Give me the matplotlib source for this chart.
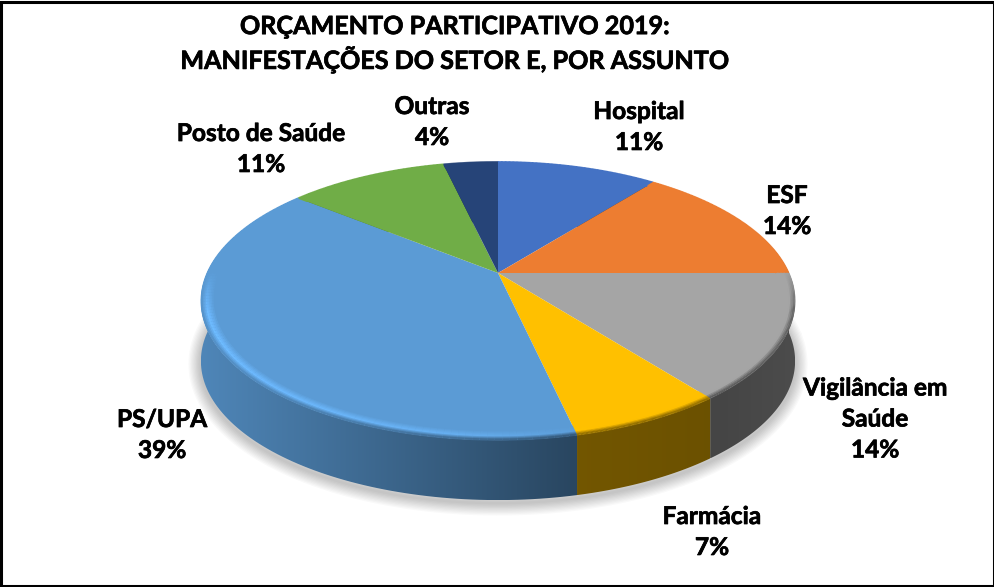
import numpy as np
import matplotlib
matplotlib.use('Agg')
import matplotlib.pyplot as plt
import matplotlib.patheffects as pe
from matplotlib.collections import LineCollection
from matplotlib.colors import to_rgb
from matplotlib.patches import Polygon, Rectangle
from matplotlib.transforms import Transform

plt.rcParams['font.family'] = ['Lato', 'DejaVu Sans']

categories = ['Hospital', 'ESF', 'Vigilância em\nSaúde', 'Farmácia', 'PS/UPA', 'Posto de Saúde', 'Outras']
shares = [10.6, 14.4, 14.5, 7.0, 39.4, 10.5, 3.6]
percent_labels = ['11%', '14%', '14%', '7%', '39%', '11%', '4%']
colors = ['#4472C4', '#ED7D31', '#A5A5A5', '#FFC000', '#5B9BD5', '#70AD47', '#264478']
title = 'ORÇAMENTO PARTICIPATIVO 2019:\nMANIFESTAÇÕES DO SETOR E, POR ASSUNTO'

label_pos = [(639, 127), (787, 211), (875, 419), (712, 532), (162, 435), (261, 149), (432, 122)]

CX, CY = 498, 273   # centro da pizza em pixels
A, B = 291.0, 133.4
K = 0.2016          # perspectiva
DEPTH = 60


class Tilt(Transform):
    """Circulo unitario -> disco inclinado, em pixels"""
    input_dims = 2
    output_dims = 2

    def transform_non_affine(self, values):
        values = np.asarray(values)
        w = 1 + K * values[:, 1]
        return np.column_stack([CX + A * values[:, 0] / w, CY - B * values[:, 1] / w])


tilt = Tilt()


def arc(theta1, theta2, r=1.0, n=120):
    t = np.radians(np.linspace(theta1, theta2, n))
    return np.column_stack([r * np.cos(t), r * np.sin(t)])


def wall_shade(x):
    return np.interp(x, [205, 330, 577, 720, 795], [0.86, 0.72, 0.45, 0.42, 0.46])


fig = plt.figure(figsize=(9.95, 5.87), dpi=100)
ax = fig.add_axes([0, 0, 1, 1])

wedges, _ = ax.pie(shares, startangle=90, counterclock=False, wedgeprops={'linewidth': 0})

# sombra embaixo do disco
outline = tilt.transform_non_affine(arc(0, 360, n=360)) + [0, DEPTH + 3]
for i in range(10):
    ax.add_patch(Polygon(outline, closed=True, facecolor='none', edgecolor='black',
                         linewidth=(10 - i) * 1.8, alpha=0.025, zorder=1))

# parede lateral
for wedge, color in zip(wedges, colors):
    top = tilt.transform_non_affine(arc(wedge.theta1, wedge.theta2))
    poly = np.vstack([top, top[::-1] + [0, DEPTH]])
    xs = np.linspace(poly[:, 0].min(), poly[:, 0].max(), 300)
    img = wall_shade(xs)[None, :, None] * np.array(to_rgb(color))[None, None, :]
    im = ax.imshow(img, extent=(xs[0], xs[-1], poly[:, 1].max(), poly[:, 1].min()),
                   aspect='auto', zorder=2, interpolation='bilinear')
    im.set_clip_path(Polygon(poly, closed=True, transform=ax.transData))

# tampo
for wedge, color in zip(wedges, colors):
    wedge.set_facecolor(color)
    wedge.set_transform(tilt + ax.transData)
    wedge.set_zorder(3)

# chanfro na borda da frente
rows = np.linspace(0.955, 1.0, 10)
for wedge, color in zip(wedges, colors):
    base = np.array(to_rgb(color))
    for r, next_r in zip(rows[:-1], rows[1:]):
        unit = arc(wedge.theta1, wedge.theta2, r=(r + next_r) / 2)
        pts = tilt.transform_non_affine(unit)
        segs = np.stack([pts[:-1], pts[1:]], axis=1)
        x = (pts[:-1, 0] + pts[1:, 0]) / 2
        front = np.clip((0.02 - unit[:-1, 1]) / 0.3, 0, 1)
        highlight = np.interp(x, [205, 450, 600], [1.22, 1.14, 1.0])
        u = (r - rows[0]) / (rows[-1] - rows[0])
        factor = np.where(u < 0.55, 1 + (highlight - 1) * u / 0.55,
                          highlight + (wall_shade(x) - highlight) * (u - 0.55) / 0.45)
        factor = 1 + (factor - 1) * front
        seg_colors = np.clip(factor[:, None] * base, 0, 1)
        ax.add_collection(LineCollection(segs, colors=seg_colors, linewidths=1.6,
                                         capstyle='butt', zorder=4))

ax.set_aspect('auto')
ax.set_xlim(0, 995)
ax.set_ylim(587, 0)
ax.set_xticks([])
ax.set_yticks([])

heavy = [pe.withStroke(linewidth=0.5, foreground='black')]

ax.text(455, 44, title, ha='center', va='center', fontsize=18.1, fontweight='bold',
        linespacing=1.34, color='black', zorder=6, path_effects=heavy)

for name, pct, (x, y) in zip(categories, percent_labels, label_pos):
    ax.text(x, y, name + '\n' + pct, ha='center', va='center', fontsize=17.6, fontweight='bold',
            linespacing=1.42, color='black', zorder=6, path_effects=heavy)

ax.add_patch(Rectangle((1, 2), 992.5, 583.5, facecolor='none', edgecolor='black',
                       linewidth=2.2, zorder=7))

fig.savefig('out.png', dpi=100)
